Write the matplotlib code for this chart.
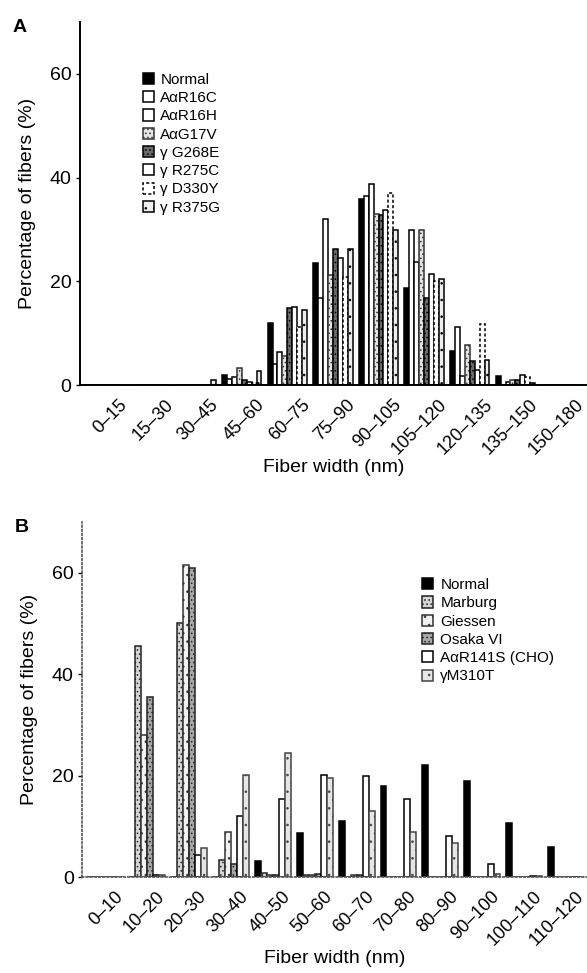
import numpy as np
import matplotlib.pyplot as plt
from matplotlib.patches import Patch

plt.rcParams['font.family'] = ['Liberation Sans', 'DejaVu Sans']
plt.rcParams['hatch.linewidth'] = 0.6

# ---- panel A data ----
a_bins = ['0\u201315', '15\u201330', '30\u201345', '45\u201360', '60\u201375', '75\u201390',
          '90\u2013105', '105\u2013120', '120\u2013135', '135\u2013150', '150\u2013180']
a_names = ['Normal', 'A\u03b1R16C', 'A\u03b1R16H', 'A\u03b1G17V',
           '\u03b3 G268E', '\u03b3 R275C', '\u03b3 D330Y', '\u03b3 R375G']
a_normal = [0, 0, 0, 2.0, 12, 23.5, 35.8, 18.7, 6.5, 1.8, 0]
a_r16c = [0, 0, 0, 1.2, 4, 16.8, 36.4, 29.8, 11.2, 0, 0]
a_r16h = [0, 0, 0, 1.5, 6.4, 32, 38.8, 23.7, 1.8, 0.5, 0]
a_g17v = [0, 0, 0, 3.2, 5.6, 21.2, 33, 29.8, 7.8, 1.0, 0]
a_g268e = [0, 0, 0, 1.0, 14.8, 26.3, 32.7, 16.8, 4.6, 1.0, 0]
a_r275c = [0, 0, 0, 0.6, 15, 24.4, 33.8, 21.5, 2.8, 2.0, 0]
a_d330y = [0, 0, 0, 0.4, 11.2, 20.8, 37, 20, 11.8, 1.5, 0]
a_r375g = [0, 0, 1.0, 2.7, 14.5, 26.3, 29.8, 20.4, 4.8, 0.4, 0]

# ---- panel B data ----
b_bins = ['0\u201310', '10\u201320', '20\u201330', '30\u201340', '40\u201350', '50\u201360',
          '60\u201370', '70\u201380', '80\u201390', '90\u2013100', '100\u2013110', '110\u2013120']
b_names = ['Normal', 'Marburg', 'Giessen', 'Osaka VI', 'A\u03b1R141S (CHO)', '\u03b3M310T']
b_normal = [0, 0, 0, 0, 3.2, 8.6, 11, 18, 22, 19, 10.6, 5.9]
b_marburg = [0, 45.5, 50, 3.3, 0.8, 0.3, 0, 0, 0, 0, 0, 0]
b_giessen = [0, 28, 61.6, 8.8, 0.3, 0.3, 0.3, 0, 0, 0, 0, 0]
b_osaka = [0, 35.5, 61, 2.6, 0.3, 0.5, 0.3, 0, 0, 0, 0, 0]
b_r141s = [0, 0.3, 4.4, 12, 15.3, 20.2, 20, 15.4, 8.1, 2.6, 0.2, 0]
b_m310t = [0, 0.3, 5.8, 20.2, 24.5, 19.5, 13, 8.8, 6.8, 0.5, 0.2, 0]

a_series = [a_normal, a_r16c, a_r16h, a_g17v, a_g268e, a_r275c, a_d330y, a_r375g]
b_series = [b_normal, b_marburg, b_giessen, b_osaka, b_r141s, b_m310t]

a_styles = [
    dict(facecolor='black', edgecolor='black'),
    dict(facecolor='white', edgecolor='black'),
    dict(facecolor='white', edgecolor='black'),
    dict(facecolor='#e4e4e4', edgecolor='#333333', hatch='....'),
    dict(facecolor='#6a6a6a', edgecolor='black', hatch='....'),
    dict(facecolor='white', edgecolor='black'),
    dict(facecolor='white', edgecolor='black', linestyle=(0, (2, 1.5))),
    dict(facecolor='#eeeeee', edgecolor='black', hatch='..'),
]
b_styles = [
    dict(facecolor='black', edgecolor='black'),
    dict(facecolor='#d6d6d6', edgecolor='#222222', hatch='....'),
    dict(facecolor='#f2f2f2', edgecolor='#333333', hatch='..'),
    dict(facecolor='#a8a8a8', edgecolor='#222222', hatch='....'),
    dict(facecolor='white', edgecolor='black'),
    dict(facecolor='#e6e6e6', edgecolor='#444444', hatch='..'),
]

fig = plt.figure(figsize=(5.87, 9.73), dpi=100)
axA = fig.add_axes([0.136, 1 - 385 / 973, 0.864, 363 / 973])
axB = fig.add_axes([0.140, 1 - 877 / 973, 0.860, 355 / 973])


def draw_panel(ax, bins, names, series, styles, width, xlim, lab_shift, spine_style):
    x = np.arange(len(bins))
    n = len(series)
    handles = []
    for j, (vals, st) in enumerate(zip(series, styles)):
        ax.bar(x + (j - (n - 1) / 2) * width, vals, width, linewidth=1.1, **st)
        handles.append(Patch(linewidth=1.1, **st))
    ax.set_xlim(*xlim)
    ax.set_ylim(0, 70)
    ax.set_yticks([0, 20, 40, 60])
    # labels sit to the right of the bar groups, as in the original figure
    ax.set_xticks(x + lab_shift)
    ax.set_xticklabels(bins, rotation=45, ha='right', fontsize=13)
    ax.tick_params(axis='x', length=0, pad=8)
    ax.tick_params(axis='y', length=3, width=1, labelsize=14, pad=3)
    ax.spines['top'].set_visible(False)
    ax.spines['right'].set_visible(False)
    for side in ('left', 'bottom'):
        ax.spines[side].set(**spine_style)
    ax.set_ylabel('Percentage of fibers (%)', fontsize=14, labelpad=10)
    ax.set_xlabel('Fiber width (nm)', fontsize=14, labelpad=1)
    ax.set_facecolor('none')
    return handles


hA = draw_panel(axA, a_bins, a_names, a_series, a_styles, 0.108, (-0.55, 10.37), 0.57,
                dict(color='black', linewidth=1.4))
hB = draw_panel(axB, b_bins, b_names, b_series, b_styles, 0.143, (-0.55, 11.48), 0.5,
                dict(color='#555555', linewidth=1.2, linestyle=(0, (1, 1.5))))

axA.legend(hA, a_names, loc='upper left', bbox_to_anchor=(0.124, 0.86), frameon=False,
           fontsize=11, handlelength=0.75, handleheight=0.75, handletextpad=0.4,
           labelspacing=0.28, borderpad=0, borderaxespad=0)
axB.legend(hB, b_names, loc='upper left', bbox_to_anchor=(0.673, 0.842), frameon=False,
           fontsize=11, handlelength=0.75, handleheight=0.75, handletextpad=0.45,
           labelspacing=0.28, borderpad=0, borderaxespad=0)

fig.text(13 / 587, 1 - 28 / 973, 'A', fontsize=14, fontweight='bold', va='center', ha='left')
fig.text(15 / 587, 1 - 528 / 973, 'B', fontsize=14, fontweight='bold', va='center', ha='left')

fig.savefig('out.png', dpi=100)
